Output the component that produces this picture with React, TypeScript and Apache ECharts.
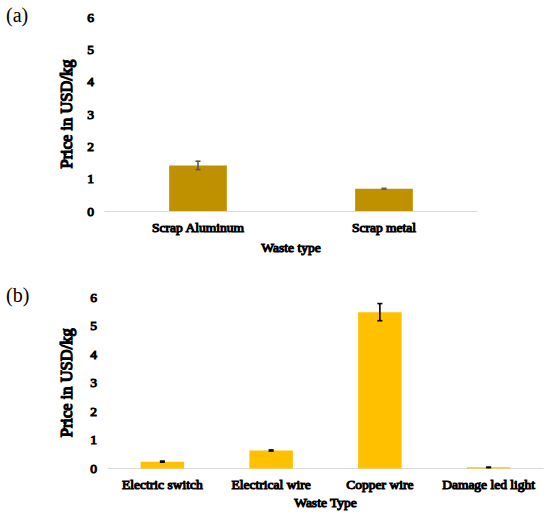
import React, { useEffect, useRef } from "react";
import * as echarts from "echarts";

const topCategories = ["Scrap Aluminum", "Scrap metal"];
const topValues = [1.41, 0.69];
const topErrors = [0.13, 0.01];

const bottomCategories = ["Electric switch", "Electrical wire", "Copper wire", "Damage led light"];
const bottomValues = [0.24, 0.63, 5.47, 0.04];
const bottomErrors = [0.02, 0.02, 0.3, 0.01];

const yMin = 0;
const yMax = 6;
const yInterval = 1;

const FONT = "Liberation Serif";

function errorRender(stroke: string) {
  return (params: any, api: any) => {
    const x = api.value(0);
    const lo = api.coord([x, api.value(1)]);
    const hi = api.coord([x, api.value(2)]);
    const half = 2.5;
    const style = { stroke, lineWidth: 1.6 };
    return {
      type: "group",
      children: [
        { type: "line", shape: { x1: lo[0], y1: lo[1], x2: hi[0], y2: hi[1] }, style },
        { type: "line", shape: { x1: lo[0] - half, y1: lo[1], x2: lo[0] + half, y2: lo[1] }, style },
        { type: "line", shape: { x1: hi[0] - half, y1: hi[1], x2: hi[0] + half, y2: hi[1] }, style },
      ],
    };
  };
}

export default function App() {
  const ref = useRef<HTMLDivElement>(null);
  useEffect(() => {
    document.body.style.margin = "0";
    const chart = echarts.init(ref.current!, null, { renderer: "svg" });
    const fauxBold = { textBorderColor: "#000", textBorderWidth: 1.05 };
    const axisLabel = { color: "#000", fontFamily: FONT, fontWeight: "normal" as const, fontSize: 13.5, ...fauxBold };
    const nameStyle = { color: "#000", fontFamily: FONT, fontWeight: "normal" as const, fontSize: 13.5, ...fauxBold };
    const yNameStyle = { color: "#000", fontFamily: FONT, fontWeight: "normal" as const, fontSize: 16.5, textBorderColor: "#000", textBorderWidth: 1.25 };
    const yAxisBase = {
      type: "value" as const,
      min: yMin,
      max: yMax,
      interval: yInterval,
      name: "Price in USD/kg",
      nameLocation: "middle" as const,
      nameTextStyle: yNameStyle,
      axisLine: { show: false },
      axisTick: { show: false },
      splitLine: { show: false },
      axisLabel: { ...axisLabel, margin: 11 },
    };
    const xAxisBase = {
      type: "category" as const,
      nameLocation: "middle" as const,
      nameTextStyle: nameStyle,
      axisLine: { show: true, lineStyle: { color: "#d9d9d9", width: 1 } },
      axisTick: { show: false },
      axisLabel: { ...axisLabel, margin: 9, interval: 0 },
    };
    chart.setOption({
      animation: false,
      backgroundColor: "#fff",
      textStyle: { fontFamily: FONT },
      graphic: [
        { type: "text", left: 6, top: 5, style: { text: "(a)", fontFamily: FONT, fontSize: 20, fill: "#000" } },
        { type: "text", left: 6, top: 285, style: { text: "(b)", fontFamily: FONT, fontSize: 20, fill: "#000" } },
      ],
      grid: [
        { left: 105, right: 73, top: 17, height: 194 },
        { left: 108, right: 7, top: 297, height: 171.5 },
      ],
      xAxis: [
        { ...xAxisBase, gridIndex: 0, data: topCategories, name: "Waste type", nameGap: 29 },
        { ...xAxisBase, gridIndex: 1, data: bottomCategories, name: "Waste Type", nameGap: 27 },
      ],
      yAxis: [
        { ...yAxisBase, gridIndex: 0, nameGap: 30 },
        { ...yAxisBase, gridIndex: 1, nameGap: 33 },
      ],
      series: [
        {
          type: "bar",
          xAxisIndex: 0,
          yAxisIndex: 0,
          data: topValues,
          barWidth: "31%",
          itemStyle: { color: "#BF9000" },
        },
        {
          type: "custom",
          xAxisIndex: 0,
          yAxisIndex: 0,
          renderItem: errorRender("#595959"),
          encode: { x: 0, y: [1, 2] },
          data: topValues.map((v, i) => [i, v - topErrors[i], v + topErrors[i]]),
          z: 5,
        },
        {
          type: "bar",
          xAxisIndex: 1,
          yAxisIndex: 1,
          data: bottomValues,
          barWidth: "40%",
          itemStyle: { color: "#FFC000" },
        },
        {
          type: "custom",
          xAxisIndex: 1,
          yAxisIndex: 1,
          renderItem: errorRender("#000"),
          encode: { x: 0, y: [1, 2] },
          data: bottomValues.map((v, i) => [i, v - bottomErrors[i], v + bottomErrors[i]]),
          z: 5,
        },
      ],
    });
    return () => chart.dispose();
  }, []);
  return <div ref={ref} style={{ position: "absolute", left: 0, top: 0, width: 550, height: 515 }} />;
}
